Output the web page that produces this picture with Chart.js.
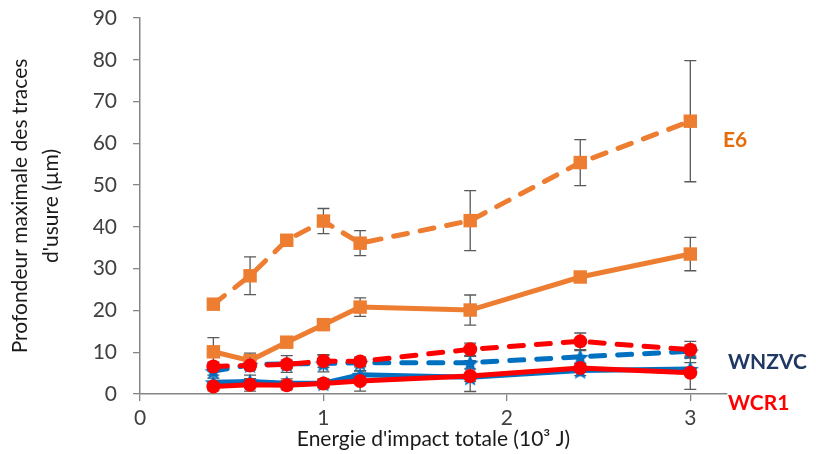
<!DOCTYPE html>
<html>
<head>
<meta charset="utf-8">
<script src="https://cdn.jsdelivr.net/npm/chart.js@4/dist/chart.umd.min.js"></script>
<style>
  html, body { margin: 0; padding: 0; background: #fff; }
  #wrap { width: 816px; height: 454px; position: relative; }
</style>
</head>
<body>
<div id="wrap"><canvas id="grafica"></canvas></div>
<script>
const energies = [0.4, 0.6, 0.8, 1.0, 1.2, 1.8, 2.4, 3.0]

const e6Dashed = [21.5, 28.3, 36.8, 41.4, 36.1, 41.5, 55.4, 65.3]
const e6DashedErr = [1, 4.5, 1, 3, 3, 7.2, 5.5, 14.5]
const e6Solid = [10.1, 8, 12.4, 16.6, 20.8, 20.1, 28, 33.5]
const e6SolidErr = [3.4, 1.8, 1, 1, 2.2, 3.6, 1, 4]

const wnzvcDashed = [5.5, 7, 7.2, 7.3, 7.5, 7.5, 8.9, 10.2]
const wnzvcDashedErr = [1, 1, 2, 2, 1, 1.5, 1.5, 1.5]
const wnzvcSolid = [2.8, 3, 2.6, 2.6, 4.6, 4, 5.6, 6]
const wnzvcSolidErr = [1, 1.5, 1, 1, 1, 1, 1.2, 1.5]

const wcr1Dashed = [6.6, 6.8, 7.1, 7.9, 7.8, 10.7, 12.6, 10.6]
const wcr1DashedErr = [1, 1, 1, 1.5, 1, 1.5, 2, 2]
const wcr1Solid = [1.8, 2.2, 2.1, 2.5, 3.1, 4.3, 6.2, 5.1]
const wcr1SolidErr = [1, 1.5, 1, 1, 2.4, 3.7, 1, 4]

const yTicks = [0, 10, 20, 30, 40, 50, 60, 70, 80, 90]
const xTicks = [0, 1, 2, 3]

const orange = '#ED7D31'
const blue = '#0070C0'
const red = '#FF0000'

function starCanvas(color, size) {
    const c = document.createElement('canvas')
    c.width = size
    c.height = size
    const ctx = c.getContext('2d')
    const cx = size / 2, cy = size / 2 + 1
    const R = size / 2, r = R * 0.45
    ctx.beginPath()
    for (let i = 0; i < 10; i++) {
        const a = -Math.PI / 2 + i * Math.PI / 5
        const rad = i % 2 === 0 ? R : r
        ctx.lineTo(cx + rad * Math.cos(a), cy + rad * Math.sin(a))
    }
    ctx.closePath()
    ctx.fillStyle = color
    ctx.fill()
    return c
}
const blueStar = starCanvas(blue, 18)

function serie(values, errors, color, dashed, style, radius) {
    return {
        data: values.map((v, i) => ({x: energies[i], y: v})),
        errors: errors,
        borderColor: color,
        backgroundColor: color,
        borderWidth: 5,
        borderCapStyle: 'round',
        borderDash: dashed ? [14, 13] : [],
        pointStyle: style,
        pointRadius: radius,
        pointBorderWidth: 0,
        pointBackgroundColor: color,
        tension: 0
    }
}

const errorBars = {
    id: 'errorBars',
    beforeDatasetsDraw(chart) {
        const ctx = chart.ctx
        const ys = chart.scales.y
        ctx.save()
        ctx.strokeStyle = '#5a5a5a'
        ctx.lineWidth = 1.3
        chart.data.datasets.forEach((ds, di) => {
            const meta = chart.getDatasetMeta(di)
            meta.data.forEach((pt, i) => {
                const v = ds.data[i].y, e = ds.errors[i]
                const top = ys.getPixelForValue(v + e)
                const bot = ys.getPixelForValue(v - e)
                ctx.beginPath()
                ctx.moveTo(pt.x, top); ctx.lineTo(pt.x, bot)
                ctx.moveTo(pt.x - 6, top); ctx.lineTo(pt.x + 6, top)
                ctx.moveTo(pt.x - 6, bot); ctx.lineTo(pt.x + 6, bot)
                ctx.stroke()
            })
        })
        ctx.restore()
    }
}

const seriesLabels = {
    id: 'seriesLabels',
    afterDraw(chart) {
        const ctx = chart.ctx
        ctx.save()
        ctx.font = 'bold 21px Lato'
        ctx.textBaseline = 'middle'
        ctx.fillStyle = '#E46C0A'
        ctx.fillText('E6', 723, 140)
        ctx.fillStyle = '#1F3864'
        ctx.fillText('WNZVC', 728, 362)
        ctx.fillStyle = red
        ctx.fillText('WCR1', 728, 403)
        ctx.restore()
    }
}

const config = {
    type: 'line',
    data: {
        datasets: [
            serie(wcr1Solid, wcr1SolidErr, red, false, 'circle', 7),
            serie(wcr1Dashed, wcr1DashedErr, red, true, 'circle', 7),
            serie(wnzvcSolid, wnzvcSolidErr, blue, false, blueStar, 9),
            serie(wnzvcDashed, wnzvcDashedErr, blue, true, blueStar, 9),
            serie(e6Solid, e6SolidErr, orange, false, 'rect', 9.5),
            serie(e6Dashed, e6DashedErr, orange, true, 'rect', 9.5)
        ]
    },
    options: {
        responsive: true,
        maintainAspectRatio: false,
        animation: false,
        layout: {padding: {top: 18, right: 89, left: 4, bottom: 2}},
        plugins: {legend: {display: false}, tooltip: {enabled: false}},
        scales: {
            x: {
                type: 'linear',
                min: 0,
                max: 3.2,
                afterBuildTicks: axis => { axis.ticks = xTicks.map(v => ({value: v})) },
                afterFit: axis => { axis.height = 58 },
                grid: {drawOnChartArea: false, color: '#868686', tickLength: 7, lineWidth: 1.3},
                border: {color: '#868686', width: 1.5},
                ticks: {color: '#404040', font: {family: 'Lato', size: 21}, padding: 5},
                title: {
                    display: true,
                    text: "Energie d'impact totale (10³ J)",
                    color: '#1a1a1a',
                    font: {family: 'Lato', size: 21},
                    padding: {top: -8, bottom: 0}
                }
            },
            y: {
                min: 0,
                max: 90,
                afterBuildTicks: axis => { axis.ticks = yTicks.map(v => ({value: v})) },
                afterFit: axis => {
                    axis.width = 136
                    axis.paddingTop = 11
                    axis.paddingBottom = 11
                },
                grid: {drawOnChartArea: false, color: '#868686', tickLength: 7, lineWidth: 1.3},
                border: {color: '#868686', width: 1.5},
                ticks: {color: '#404040', font: {family: 'Lato', size: 21}, padding: 16},
                title: {
                    display: true,
                    text: ['Profondeur maximale des traces', "d'usure (µm)"],
                    color: '#1a1a1a',
                    font: {family: 'Lato', size: 21, lineHeight: 1.5},
                    padding: {top: 0, bottom: 0}
                }
            }
        }
    },
    plugins: [errorBars, seriesLabels]
}

new Chart(document.querySelector('#grafica'), config)
</script>
</body>
</html>
